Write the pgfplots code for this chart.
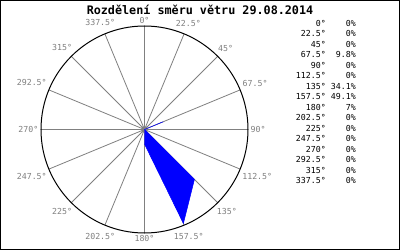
\documentclass[border=0pt]{standalone}
\usepackage{fontspec}
\setmonofont{DejaVu Sans Mono}
\newfontfamily\mono{DejaVu Sans Mono}
\usepackage{pgfplots}
\usepackage{pgfplotstable}
\pgfplotsset{compat=1.18}
\usepgfplotslibrary{polar}

\pgfplotstableread{
a v
0 0
22.5 0
45 0
67.5 9.8
90 0
112.5 0
135 34.1
157.5 49.1
180 7
202.5 0
225 0
247.5 0
270 0
292.5 0
315 0
337.5 0
}\winddata

\begin{document}
\begin{tikzpicture}[x=1bp,y=1bp]
\useasboundingbox (0,0) rectangle (400,250);
\fill[white] (0,0) rectangle (400,250);
\draw[line width=1bp] (0.5,0.5) rectangle (399.5,249.5);
\node[font=\mono\bfseries\fontsize{11.8}{12}\selectfont] at (200,240) {Rozdělení směru větru 29.08.2014};
\begin{polaraxis}[
  at={(144.5bp,120.5bp)}, anchor=center,
  scale only axis, width=207bp, height=207bp,
  xmin=0, xmax=360, ymin=0, ymax=50,
  ytick=\empty,
  xtick={0,22.5,45,67.5,90,112.5,135,157.5,180,202.5,225,247.5,270,292.5,315,337.5},
  xticklabels={90°,67.5°,45°,22.5°,0°,337.5°,315°,292.5°,270°,247.5°,225°,202.5°,180°,157.5°,135°,112.5°},
  xmajorgrids,
  grid style={gray, line width=0.8bp},
  separate axis lines,
  x axis line style={black, line width=1bp},
  y axis line style={draw=none},
  major tick length=0pt,
  xticklabel style={font=\mono\fontsize{8.3}{9}\selectfont, text=gray, inner sep=2.5bp},
]
\addplot[fill=blue, draw=blue, line width=0.5bp] table[x expr={mod(450-\thisrow{a},360)}, y=v] {\winddata};
\end{polaraxis}
\begin{scope}[font=\mono\fontsize{8.3}{9}\selectfont, inner sep=0pt]
\foreach \ang/\pct [count=\i from 0] in {0°/0\%, 22.5°/0\%, 45°/0\%, 67.5°/9.8\%, 90°/0\%, 112.5°/0\%, 135°/34.1\%, 157.5°/49.1\%, 180°/7\%, 202.5°/0\%, 225°/0\%, 247.5°/0\%, 270°/0\%, 292.5°/0\%, 315°/0\%, 337.5°/0\%} {
  \node[anchor=east] at (326, 227-10.53*\i) {\ang};
  \node[anchor=east] at (356, 227-10.53*\i) {\pct};
}
\end{scope}
\end{tikzpicture}
\end{document}
